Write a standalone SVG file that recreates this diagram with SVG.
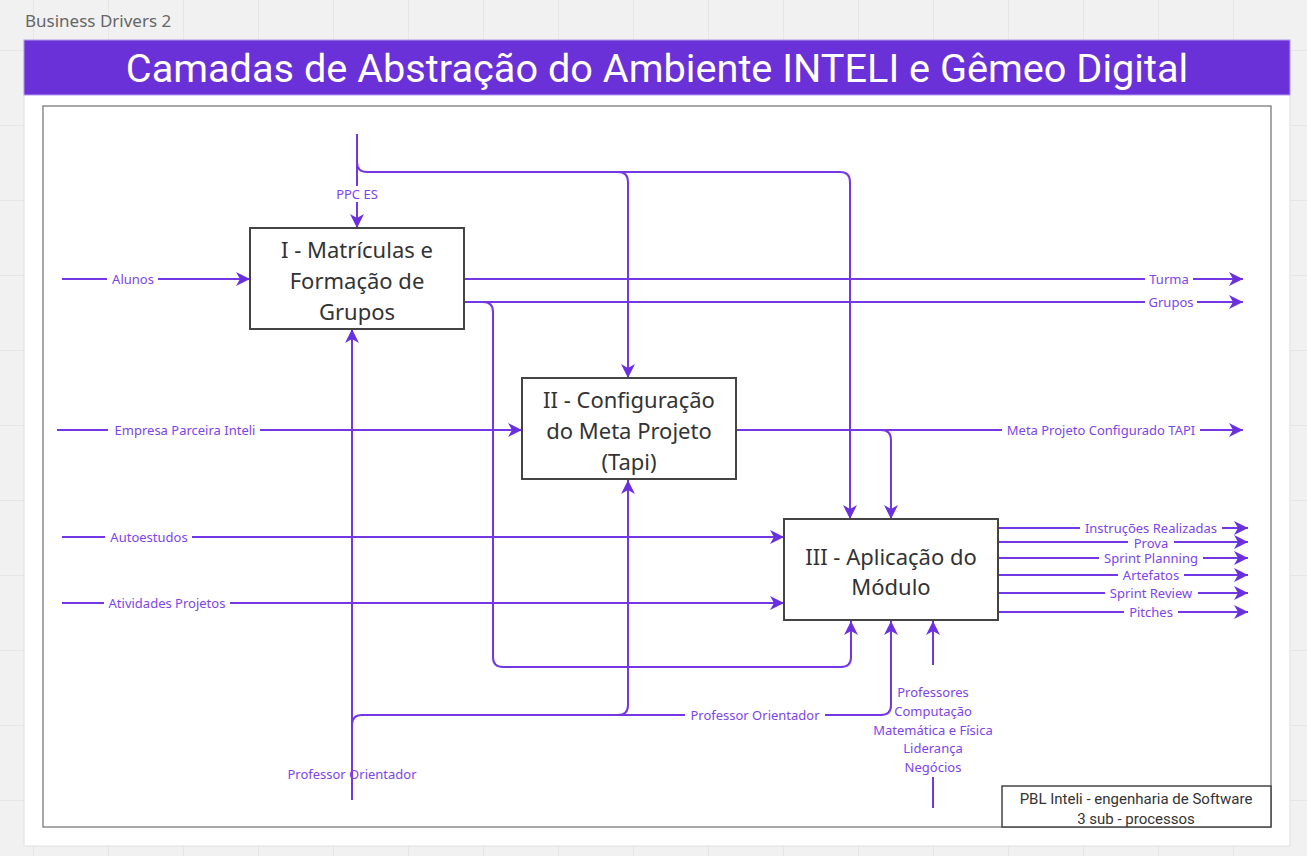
<svg xmlns="http://www.w3.org/2000/svg" width="1307" height="856" viewBox="0 0 1307 856">
<style>
.bg{fill:#f1f1f1}
.panel{fill:#ffffff;stroke:#e0e0e0;stroke-width:1}
.frame{fill:none;stroke:#6e6e6e;stroke-width:1.2}
.box{fill:#ffffff;stroke:#444444;stroke-width:2}
.ntext{font-family:"Noto Sans",sans-serif;font-size:22px;fill:#333333;text-anchor:middle;dominant-baseline:central}
.conn path{fill:none;stroke:#7537e3;stroke-width:2}
.lbl{font-family:"Noto Sans",sans-serif;font-size:13px;fill:#7d45e8;text-anchor:middle;dominant-baseline:central}
.lbg{fill:#ffffff}
.foot{font-family:Roboto,"Noto Sans",sans-serif;font-size:15px;fill:#333333;text-anchor:middle;dominant-baseline:central}
</style>
<defs>
<pattern id="grid" x="33" y="50" width="75" height="75" patternUnits="userSpaceOnUse">
<path d="M0,0 H75 M0,0 V75" fill="none" stroke="#e2e2e2" stroke-width="1.5"/>
</pattern>
<marker id="arr" markerUnits="userSpaceOnUse" markerWidth="15" markerHeight="14" refX="14" refY="7" orient="auto">
<path d="M0,0 L14,7 L0,14 L4,7 Z" fill="#6a30e0"/>
</marker>
</defs>
<rect class="bg" x="0" y="0" width="1307" height="856"/>
<rect x="0" y="0" width="1307" height="856" fill="url(#grid)"/>
<text x="25" y="27" font-family="'Noto Sans',sans-serif" font-size="17" fill="#666666">Business Drivers 2</text>
<rect class="panel" x="24" y="40" width="1266" height="806"/>
<g id="header">
<rect x="24" y="40" width="1266" height="55" fill="#6a31d8" stroke="#b39af0" stroke-width="1"/>
<text x="657" y="68" font-family="Roboto,'Noto Sans',sans-serif" font-size="39.7" fill="#ffffff" text-anchor="middle" dominant-baseline="central">Camadas de Abstração do Ambiente INTELI e Gêmeo Digital</text>
</g>
<rect class="frame" x="43" y="106" width="1228" height="721"/>

<g id="connectors" class="conn">
<path d="M357,134 V228" marker-end="url(#arr)"/>
<path d="M357,162 Q357,172 367,172 H618 Q628,172 628,182 V378" marker-end="url(#arr)"/>
<path d="M618,172 H840 Q850,172 850,182 V519" marker-end="url(#arr)"/>
<path d="M62,279 H250" marker-end="url(#arr)"/>
<path d="M464,279 H1243" marker-end="url(#arr)"/>
<path d="M464,302 H1243" marker-end="url(#arr)"/>
<path d="M483,302 Q493,302 493,312 V657 Q493,667 503,667 H841 Q851,667 851,657 V621" marker-end="url(#arr)"/>
<path d="M57,430 H522" marker-end="url(#arr)"/>
<path d="M736,430 H1243" marker-end="url(#arr)"/>
<path d="M881,430 Q891,430 891,440 V519" marker-end="url(#arr)"/>
<path d="M62,537 H784" marker-end="url(#arr)"/>
<path d="M62,603 H784" marker-end="url(#arr)"/>
<path d="M998,528 H1248" marker-end="url(#arr)"/>
<path d="M998,542 H1248" marker-end="url(#arr)"/>
<path d="M998,558 H1248" marker-end="url(#arr)"/>
<path d="M998,575 H1248" marker-end="url(#arr)"/>
<path d="M998,593 H1248" marker-end="url(#arr)"/>
<path d="M998,612 H1248" marker-end="url(#arr)"/>
<path d="M352,800 V329" marker-end="url(#arr)"/>
<path d="M352,725 Q352,715 362,715 H618 Q628,715 628,705 V480" marker-end="url(#arr)"/>
<path d="M618,715 H881 Q891,715 891,705 V621" marker-end="url(#arr)"/>
<path d="M933,808 V777"/>
<path d="M933,665 V621" marker-end="url(#arr)"/>
</g>

<g id="labels">
<rect class="lbg" x="332" y="186" width="50" height="16"/><text class="lbl" x="357" y="194">PPC ES</text>
<rect class="lbg" x="107" y="271" width="51" height="16"/><text class="lbl" x="133" y="279">Alunos</text>
<rect class="lbg" x="1145" y="271" width="48" height="16"/><text class="lbl" x="1169" y="279">Turma</text>
<rect class="lbg" x="1145" y="294" width="52" height="16"/><text class="lbl" x="1171" y="302">Grupos</text>
<rect class="lbg" x="108" y="422" width="152" height="16"/><text class="lbl" x="185" y="430">Empresa Parceira Inteli</text>
<rect class="lbg" x="1002" y="422" width="198" height="16"/><text class="lbl" x="1101" y="430">Meta Projeto Configurado TAPI</text>
<rect class="lbg" x="105" y="529" width="87" height="16"/><text class="lbl" x="149" y="537">Autoestudos</text>
<rect class="lbg" x="104" y="595" width="126" height="16"/><text class="lbl" x="167" y="603">Atividades Projetos</text>
<rect class="lbg" x="1080" y="521" width="142" height="14"/><text class="lbl" x="1151" y="528">Instruções Realizadas</text>
<rect class="lbg" x="1128" y="536" width="46" height="12"/><text class="lbl" x="1151" y="543">Prova</text>
<rect class="lbg" x="1099" y="551" width="104" height="14"/><text class="lbl" x="1151" y="558">Sprint Planning</text>
<rect class="lbg" x="1118" y="568" width="66" height="14"/><text class="lbl" x="1151" y="575">Artefatos</text>
<rect class="lbg" x="1105" y="586" width="93" height="14"/><text class="lbl" x="1151" y="593">Sprint Review</text>
<rect class="lbg" x="1124" y="605" width="54" height="14"/><text class="lbl" x="1151" y="612">Pitches</text>
<rect class="lbg" x="685" y="707" width="140" height="16"/><text class="lbl" x="755" y="715">Professor Orientador</text>
<text class="lbl" x="352" y="774">Professor Orientador</text>
<text class="lbl" x="933" y="692">Professores</text>
<text class="lbl" x="933" y="711">Computação</text>
<text class="lbl" x="933" y="730">Matemática e Física</text>
<text class="lbl" x="933" y="748">Liderança</text>
<text class="lbl" x="933" y="767">Negócios</text>
</g>

<g id="node-1">
<rect class="box" x="250" y="228" width="214" height="101"/>
<text class="ntext" x="357" y="249">I - Matrículas e</text>
<text class="ntext" x="357" y="280">Formação de</text>
<text class="ntext" x="357" y="311">Grupos</text>
</g>
<g id="node-2">
<rect class="box" x="522" y="378" width="214" height="101"/>
<text class="ntext" x="629" y="399">II - Configuração</text>
<text class="ntext" x="629" y="430">do Meta Projeto</text>
<text class="ntext" x="629" y="461">(Tapi)</text>
</g>
<g id="node-3">
<rect class="box" x="784" y="519" width="214" height="101"/>
<text class="ntext" x="891" y="556">III - Aplicação do</text>
<text class="ntext" x="891" y="586">Módulo</text>
</g>
<g id="footer">
<rect x="1002" y="786" width="269" height="41" fill="#ffffff" stroke="#444444" stroke-width="1.5"/>
<text class="foot" x="1136" y="799">PBL Inteli - engenharia de Software</text>
<text class="foot" x="1136" y="819">3 sub - processos</text>
</g>
</svg>
